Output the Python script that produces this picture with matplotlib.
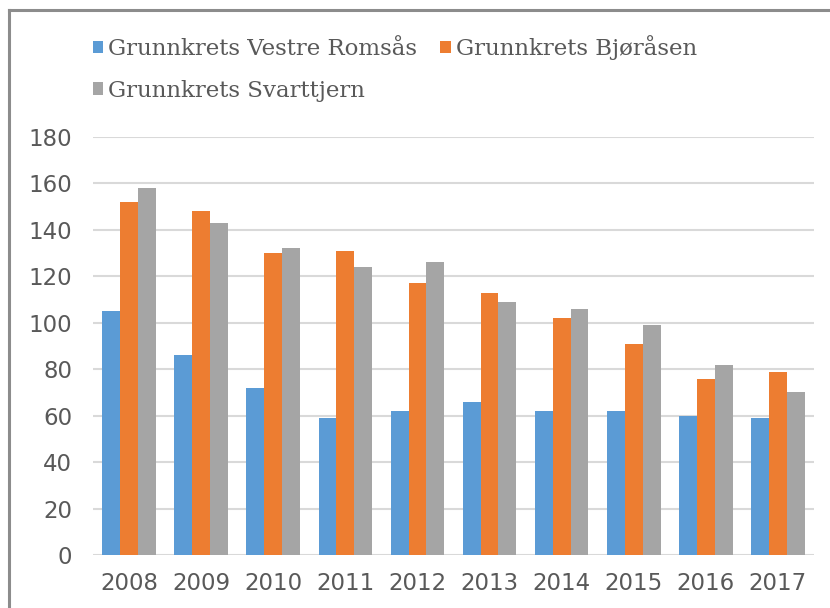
"""
Grunnkrets bar chart, 2008-2017 (three areas, grouped bars).
"""
import numpy as np
import matplotlib
matplotlib.use("Agg")
import matplotlib.pyplot as plt
from matplotlib.patches import Patch
from matplotlib.lines import Line2D

# ==================== DATA ====================
YEARS = ['2008', '2009', '2010', '2011', '2012', '2013', '2014', '2015', '2016', '2017']
VESTRE_ROMSAS = [105, 86, 72, 59, 62, 66, 62, 62, 60, 59]
BJORASEN = [152, 148, 130, 131, 117, 113, 102, 91, 76, 79]
SVARTTJERN = [158, 143, 132, 124, 126, 109, 106, 99, 82, 70]
SERIES_NAMES = ['Grunnkrets Vestre Romsås', 'Grunnkrets Bjøråsen', 'Grunnkrets Svarttjern']
Y_TICKS = [0, 20, 40, 60, 80, 100, 120, 140, 160, 180]

COLORS = ['#5B9BD5', '#ED7D31', '#A5A5A5']
TEXT_COL = '#595959'

# ==================== PLOT ====================
fig = plt.figure(figsize=(8.3, 6.08), dpi=100)
ax = fig.add_axes([93 / 830, 1 - 555 / 608, 721 / 830, 418 / 608])

x = np.arange(len(YEARS))
w = 0.248
series = [VESTRE_ROMSAS, BJORASEN, SVARTTJERN]
for i, (vals, col) in enumerate(zip(series, COLORS)):
    ax.bar(x + (i - 1) * w, vals, width=w, color=col, zorder=3)

ax.set_xlim(-0.5, len(YEARS) - 0.5)
ax.set_ylim(0, 180)
ax.set_yticks(Y_TICKS)
ax.set_xticks(x)
ax.set_xticklabels(YEARS)
ax.tick_params(axis='both', length=0, labelsize=16.5, labelcolor=TEXT_COL, labelfontfamily='DejaVu Sans')
ax.tick_params(axis='y', pad=15)
ax.tick_params(axis='x', pad=12)
ax.grid(axis='y', color='#D9D9D9', linewidth=1.5, zorder=0)
for s in ax.spines.values():
    s.set_visible(False)

# legend: order so that ncol=2 gives Vestre | Bjøråsen on row 1, Svarttjern on row 2
handles = [Patch(facecolor=c, edgecolor='none') for c in COLORS]
order = [0, 2, 1]
leg = fig.legend([handles[k] for k in order], [SERIES_NAMES[k] for k in order],
                 ncol=2, loc='upper left', bbox_to_anchor=(93 / 830, 1 - 35 / 608),
                 frameon=False, prop={'family': 'DejaVu Serif', 'size': 16.5},
                 labelcolor=TEXT_COL, handlelength=0.45, handleheight=0.45,
                 handletextpad=0.22, columnspacing=1.0, labelspacing=0.86,
                 borderpad=0, borderaxespad=0)

# outer frame (left and top edges visible in the reference)
fig.add_artist(Line2D([9 / 830, 9 / 830], [0, 1 - 10 / 608], transform=fig.transFigure,
                      color='#8C8C8C', linewidth=2.2))
fig.add_artist(Line2D([9 / 830, 1], [1 - 10 / 608, 1 - 10 / 608], transform=fig.transFigure,
                      color='#8C8C8C', linewidth=2.2))

fig.savefig('out.png', dpi=100)
